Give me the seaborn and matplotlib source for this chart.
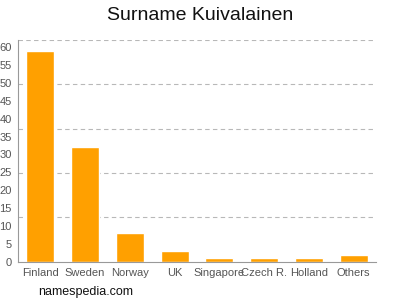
import matplotlib
matplotlib.use("Agg")
import matplotlib.pyplot as plt
import seaborn as sns
import pandas as pd
import numpy as np

countries = ["Finland", "Sweden", "Norway", "UK", "Singapore", "Czech R.", "Holland", "Others"]
counts = [59, 32, 8, 3, 1, 1, 1, 2]
yticks = list(range(0, 61, 5))

sns.set_style("white")
plt.rcParams['font.family'] = ['Liberation Sans', 'DejaVu Sans']

df = pd.DataFrame({"country": countries, "count": counts})

fig = plt.figure(figsize=(4, 3), dpi=100)
ax = fig.add_axes([0.045, 0.127, 0.895, 0.74])
sns.barplot(data=df, x="country", y="count", color="#FFA000", saturation=1,
            width=0.63, ax=ax)

ymax = 62
ax.set_ylim(0, ymax)
ax.set_xlim(-0.5, len(countries) - 0.5)
ax.set_yticks(yticks)
for g in np.linspace(ymax / 5, ymax, 5):
    ax.axhline(g, color="#b8b8b8", linestyle=(0, (4, 3)), linewidth=0.8, zorder=0)

ax.set_xlabel("")
ax.set_ylabel("")
for s in ["top", "right"]:
    ax.spines[s].set_visible(False)
for s in ["left", "bottom"]:
    ax.spines[s].set_color("#999999")
    ax.spines[s].set_linewidth(0.8)
ax.tick_params(axis="both", colors="#999999", length=3, width=0.8, labelsize=8,
               labelcolor="#555555", pad=1.5)

fig.text(0.5, 0.95, "Surname Kuivalainen", ha="center", va="center", fontsize=14, color="#111111")
fig.text(0.095, 0.027, "namespedia.com", ha="left", va="center", fontsize=9, color="#111111")

fig.savefig("out.png", dpi=100)
